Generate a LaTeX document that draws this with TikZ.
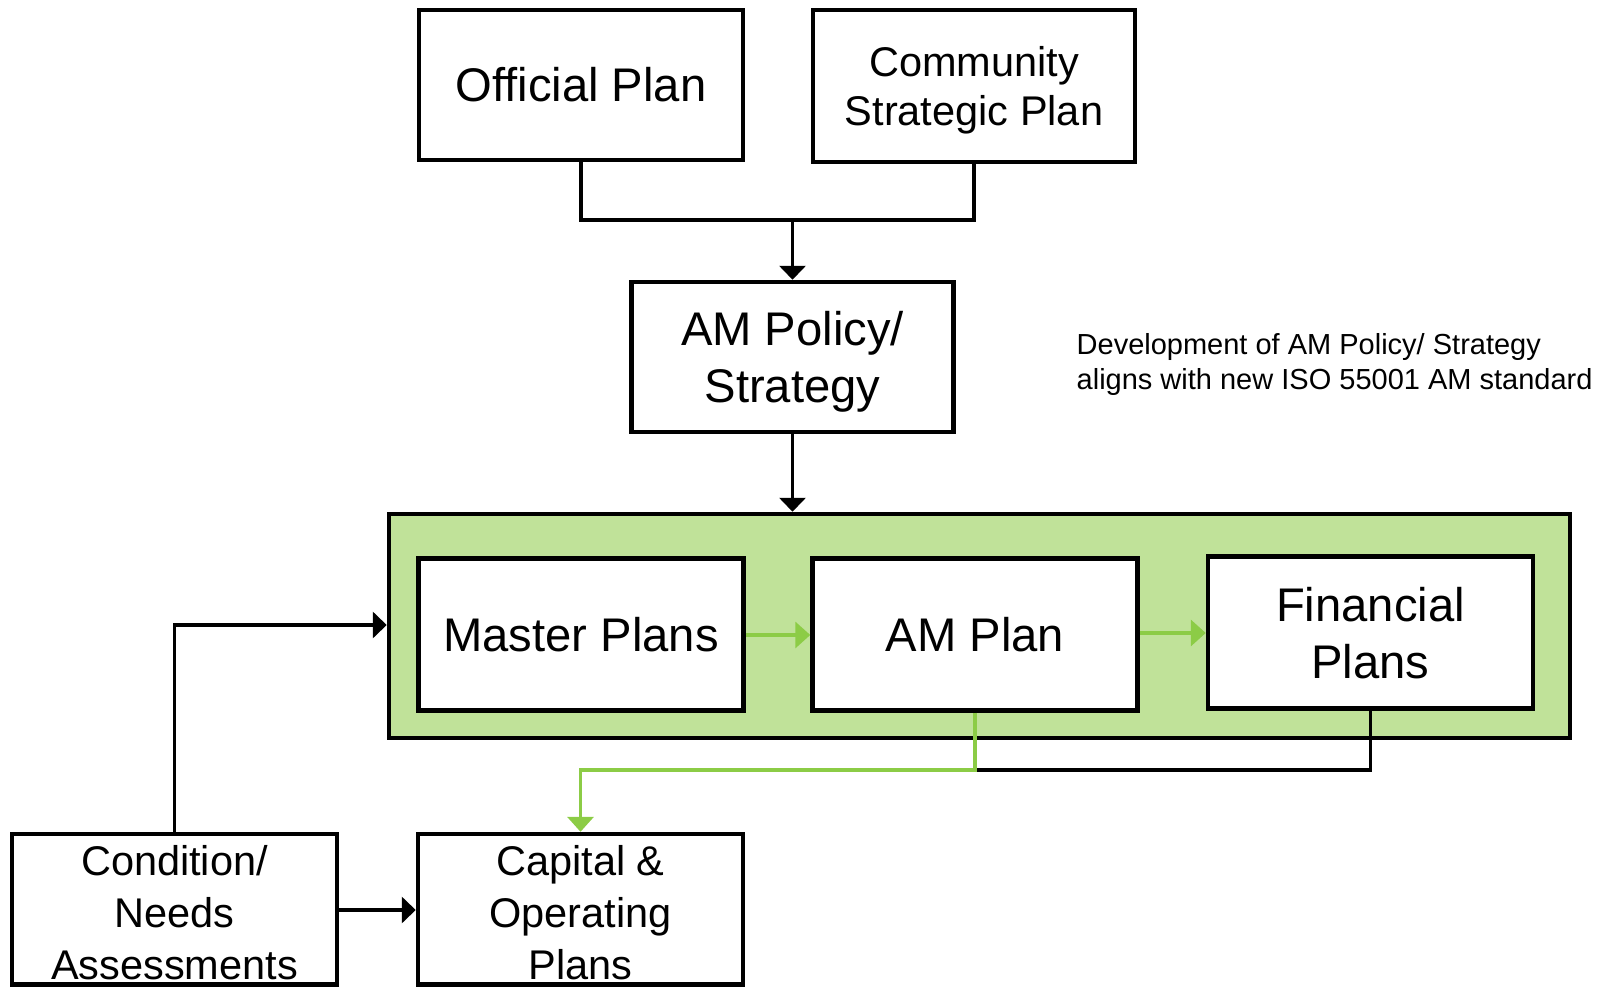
\documentclass[tikz,border=0pt]{standalone}
\usepackage{fontspec}
\setmainfont{Liberation Sans}
\usetikzlibrary{arrows.meta}
\definecolor{panelgreen}{RGB}{192,226,153}
\definecolor{flowgreen}{RGB}{140,204,70}
\begin{document}
\begin{tikzpicture}[x=1pt,y=-1pt,
  box/.style={draw=black, line width=4.5pt, fill=white, minimum width=325pt,
    minimum height=151pt, inner sep=0pt, align=center},
  % text boxes span from the cap line of the first row to the last baseline
  bigtext/.style={font=\fontsize{47.2}{57}\selectfont, text height=#1, text depth=0pt},
  bigtext/.default=33.8pt,
  smalltext/.style={font=\fontsize{41.5}{#1}\selectfont, text depth=0pt},
  tip/.style={-{Triangle[length=14pt,width=26pt]}},
  gtip/.style={-{Triangle[length=15pt,width=26pt]}},
  link/.style={draw=black, line width=3.5pt},
  glink/.style={draw=flowgreen, line width=3.5pt},
]
\useasboundingbox (0,0) rectangle (1614,987);

% green panel holding the three planning documents
\node[draw=black, line width=4.5pt, fill=panelgreen, minimum width=1181pt,
  minimum height=224pt, inner sep=0pt] (panel) at (979.5,626) {};

% top-level plans
\node[box, minimum width=324pt, minimum height=150pt, bigtext] (off) at (581,85) {Official Plan};
\node[box, minimum width=322pt, minimum height=152pt, smalltext=49pt, text height=78.7pt] (csp) at (974,86) {Community\\Strategic Plan};
\node[box, minimum width=322pt, minimum height=150pt, bigtext=90.8pt] (pol) at (792.5,357) {AM Policy/\\Strategy};

% plans inside the panel
\node[box, minimum height=152pt, bigtext] (mp) at (581,634.5) {Master Plans};
\node[box, minimum height=152pt, bigtext] (amp) at (975,634.5) {AM Plan};
\node[box, minimum height=152pt, bigtext=91.3pt] (fin) at (1370.5,632.5) {Financial\\Plans};

% lower boxes, running to the bottom edge
\node[box, minimum height=150.5pt, smalltext=52pt, text height=139.7pt] (cap) at (580.5,909.3) {Capital \&\\Operating\\Plans};
\node[box, minimum height=150.5pt, smalltext=52pt, text height=139.7pt] (cond) at (174.5,909.3) {Condition/\\Needs\\Assessments};

% note
\node[anchor=west, align=left, inner sep=0pt, text height=55.8pt, text depth=0pt,
  font=\fontsize{29}{35}\selectfont] (note) at (1076.5,361.5)
  {Development of AM Policy/ Strategy\\aligns with new ISO 55001 AM standard};

% junction points
\coordinate (topjoin) at (792.5,220);
\coordinate (lowjoin) at (975,770);

% top plans merge into the policy
\draw[link] (off.south) |- (topjoin);
\draw[link] (csp.south) |- (topjoin);
\draw[link, tip] (topjoin) -- (pol.north);
\draw[link, tip] (pol.south) -- (pol.south |- panel.north);

% flow inside the panel
\draw[glink, gtip] (mp.east |- 0,635) -- (amp.west |- 0,635);
\draw[glink, gtip] (amp.east |- 0,633) -- (fin.west |- 0,633);

% outputs to capital and operating plans
\draw[link] (fin.south) |- (lowjoin);
\draw[glink, gtip] (amp.south) -- (lowjoin) -| (cap.north);

% condition assessments feed the panel and the capital plans
\draw[link, tip] (cond.north) |- (panel.west |- 0,625);
\draw[link, tip] (cond.east |- 0,910) -- (cap.west |- 0,910);
\end{tikzpicture}
\end{document}
